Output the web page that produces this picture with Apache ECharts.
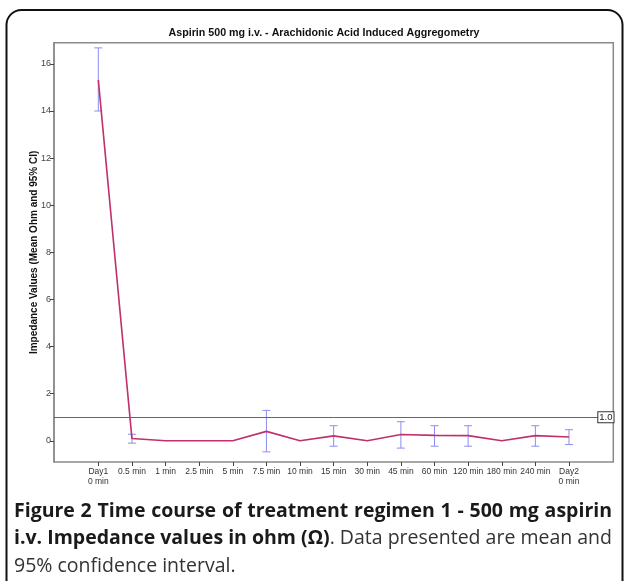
<!DOCTYPE html>
<html>
<head>
<meta charset="utf-8">
<script src="https://cdn.jsdelivr.net/npm/echarts@6/dist/echarts.min.js"></script>
<style>
html,body{margin:0;padding:0;background:#fff;}
#chart{width:624px;height:581px;}
</style>
</head>
<body>
<div id="chart"></div>
<script>
// ---- data ----
var categories = ['Day1\n0 min','0.5 min','1 min','2.5 min','5 min','7.5 min','10 min','15 min','30 min','45 min','60 min','120 min','180 min','240 min','Day2\n0 min'];
var meanValues = [15.32, 0.10, 0, 0, 0, 0.40, 0, 0.21, 0, 0.27, 0.23, 0.22, 0, 0.22, 0.16];
var ciLower    = [14.00, -0.10, 0, 0, 0, -0.47, 0, -0.23, 0, -0.31, -0.23, -0.23, 0, -0.23, -0.16];
var ciUpper    = [16.68, 0.28, 0, 0, 0, 1.29, 0, 0.64, 0, 0.81, 0.64, 0.64, 0, 0.64, 0.47];
var yTickValues = [0, 2, 4, 6, 8, 10, 12, 14, 16];
var referenceValue = 1.0;
var yMin = -0.9, yMax = 16.9;

var errorData = [];
for (var i = 0; i < categories.length; i++) {
  if (ciUpper[i] !== ciLower[i]) errorData.push([i, ciLower[i], ciUpper[i]]);
}

// ---- caption (justified text) ----
var boldFont = {family: 'Open Sans', weight: 'bold', size: 19.5};
var normFont = {family: 'Open Sans', weight: 'normal', size: 19.5};
var captionLines = [
  {justify: true, words: [[['Figure','b']],[['2','b']],[['Time','b']],[['course','b']],[['of','b']],[['treatment','b']],[['regimen','b']],[['1','b']],[['-','b']],[['500','b']],[['mg','b']],[['aspirin','b']]]},
  {justify: true, words: [[['i.v.','b']],[['Impedance','b']],[['values','b']],[['in','b']],[['ohm','b']],[['(Ω)','b'],['.','n']],[['Data','n']],[['presented','n']],[['are','n']],[['mean','n']],[['and','n']]]},
  {justify: false, words: [[['95%','n']],[['confidence','n']],[['interval.','n']]]}
];
var capLeft = 14, capRight = 612, capY = [511, 538.5, 566];
var mctx = document.createElement('canvas').getContext('2d');
function fontStr(f) { return f.weight + ' ' + f.size + 'px "' + f.family + '"'; }
function measure(t, st) { mctx.font = fontStr(st === 'b' ? boldFont : normFont); return mctx.measureText(t).width; }
var captionGraphics = [];
captionLines.forEach(function (line, li) {
  var widths = line.words.map(function (w) { return w.reduce(function (s, p) { return s + measure(p[0], p[1]); }, 0); });
  var total = widths.reduce(function (a, b) { return a + b; }, 0);
  var gaps = line.words.length - 1;
  var space = measure(' ', 'n');
  var gap = line.justify ? Math.max(space * 0.6, (capRight - capLeft - total) / gaps) : space;
  var x = capLeft;
  line.words.forEach(function (w, wi) {
    var px = x;
    w.forEach(function (p) {
      var f = p[1] === 'b' ? boldFont : normFont;
      captionGraphics.push({type: 'text', x: px, y: capY[li], silent: true,
        style: {text: p[0], fontFamily: f.family, fontWeight: f.weight, fontSize: f.size,
          fill: p[1] === 'b' ? '#1a1a1a' : '#333', verticalAlign: 'middle', align: 'left'}});
      px += measure(p[0], p[1]);
    });
    x += widths[wi] + gap;
  });
});

var chart = echarts.init(document.getElementById('chart'));
var plotTop = 42.7, plotH = 419.3;
var option = {
  animation: false,
  backgroundColor: '#fff',
  title: {
    text: 'Aspirin 500 mg i.v. - Arachidonic Acid Induced Aggregometry',
    left: 319, top: 23, textAlign: 'center',
    textStyle: {fontFamily: 'Liberation Sans', fontSize: 10.7, fontWeight: 'bold', color: '#111'}
  },
  grid: [
    {left: 54, top: plotTop, width: 559.3, height: plotH, show: true, borderColor: '#8a8a8a', borderWidth: 1.5, backgroundColor: 'transparent'},
    {left: 81.5, top: plotTop, width: 504.3, height: plotH}
  ],
  xAxis: [
    {type: 'value', gridIndex: 0, min: 0, max: 1, show: false},
    {type: 'category', gridIndex: 1, data: categories, boundaryGap: true,
     axisLine: {show: false, onZero: false},
     axisTick: {show: true, alignWithLabel: true, length: 4, lineStyle: {color: '#444'}},
     axisLabel: {fontFamily: 'Liberation Sans', fontSize: 8.5, color: '#333', margin: 5, interval: 0, lineHeight: 9.5}}
  ],
  yAxis: [
    {type: 'value', gridIndex: 0, min: yMin, max: yMax, splitNumber: 9,
     name: 'Impedance Values (Mean Ohm and 95% CI)', nameLocation: 'middle', nameGap: 15, nameMoveOverlap: false,
     nameTextStyle: {fontFamily: 'Liberation Sans', fontSize: 10, fontWeight: 'bold', color: '#111'},
     axisLine: {show: true, onZero: false, lineStyle: {color: '#8a8a8a', width: 1.5}},
     axisTick: {show: true, length: 4, customValues: yTickValues, lineStyle: {color: '#444'}},
     splitLine: {show: false},
     axisLabel: {fontFamily: 'Liberation Sans', fontSize: 9, color: '#444', margin: 3, customValues: yTickValues,
       formatter: function (v) { return (Math.abs(v % 2) < 1e-9) ? String(v) : ''; }}},
    {type: 'value', gridIndex: 1, min: yMin, max: yMax, show: false}
  ],
  series: [
    {type: 'line', xAxisIndex: 0, yAxisIndex: 0, data: [], silent: true,
     markLine: {symbol: 'none', silent: true,
       lineStyle: {color: '#666', width: 1, type: 'solid'},
       label: {show: true, formatter: '1.0', position: 'end', distance: -15,
         fontFamily: 'Liberation Sans', fontSize: 9.5, color: '#222',
         backgroundColor: '#fff', borderColor: '#333', borderWidth: 1, padding: [0, 1, 0, 1]},
       data: [{yAxis: referenceValue}]}},
    {type: 'custom', xAxisIndex: 1, yAxisIndex: 1, data: errorData, z: 3,
     renderItem: function (params, api) {
       var x = api.value(0);
       var lo = api.coord([x, api.value(1)]);
       var hi = api.coord([x, api.value(2)]);
       var cap = 4;
       var st = {stroke: '#8c8cf2', lineWidth: 1};
       return {type: 'group', children: [
         {type: 'line', shape: {x1: lo[0], y1: lo[1], x2: hi[0], y2: hi[1]}, style: st},
         {type: 'line', shape: {x1: lo[0] - cap, y1: lo[1], x2: lo[0] + cap, y2: lo[1]}, style: st},
         {type: 'line', shape: {x1: hi[0] - cap, y1: hi[1], x2: hi[0] + cap, y2: hi[1]}, style: st}
       ]};
     }},
    {type: 'line', xAxisIndex: 1, yAxisIndex: 1, data: meanValues, symbol: 'none', z: 4,
     lineStyle: {color: '#c2306c', width: 1.6}}
  ],
  graphic: [
    {type: 'rect', shape: {x: 6.5, y: 10, width: 616, height: 620, r: 15},
     style: {fill: 'none', stroke: '#111', lineWidth: 2}, silent: true}
  ].concat(captionGraphics)
};
chart.setOption(option);
</script>
</body>
</html>
